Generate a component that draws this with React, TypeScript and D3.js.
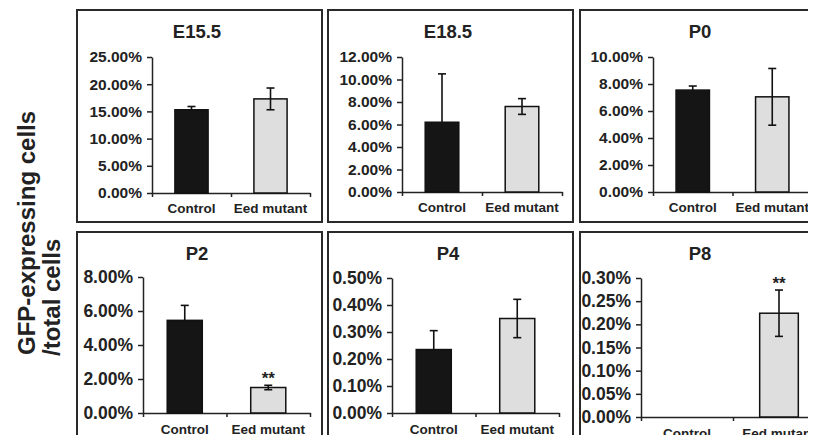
import React, { useRef, useEffect } from "react";
import * as d3 from "d3";

// values (percent of cells)
const panels = ["E15.5", "E18.5", "P0", "P2", "P4", "P8"];
const categories = ["Control", "Eed mutant"];
const controlMean = [15.3, 6.2, 7.55, 5.45, 0.235, 0];
const controlErr = [0.6, 4.3, 0.3, 0.88, 0.07, 0];
const mutantMean = [17.3, 7.6, 7.05, 1.5, 0.35, 0.224];
const mutantErr = [2.0, 0.7, 2.1, 0.13, 0.071, 0.05];
const mutantStars = ["", "", "", "**", "", "**"];
const yTicks = [
  [0, 5, 10, 15, 20, 25],
  [0, 2, 4, 6, 8, 10, 12],
  [0, 2, 4, 6, 8, 10],
  [0, 2, 4, 6, 8],
  [0, 0.1, 0.2, 0.3, 0.4, 0.5],
  [0, 0.05, 0.1, 0.15, 0.2, 0.25, 0.3],
];

// box origin and plot area inside each box
const boxes = [
  { x: 77, y: 10, x0: 75, x1: 233, top: 47, zero: 183, lab: 20 },
  { x: 328, y: 10, x0: 74, x1: 234, top: 47, zero: 182, lab: 20 },
  { x: 580, y: 10, x0: 73, x1: 232, top: 47, zero: 182, lab: 20 },
  { x: 77, y: 232, x0: 66, x1: 233, top: 45, zero: 181, lab: 21 },
  { x: 328, y: 232, x0: 64, x1: 231, top: 46, zero: 181, lab: 21 },
  { x: 580, y: 232, x0: 61, x1: 245, top: 46, zero: 185, lab: 21 },
];

const FONT = "Arial, 'Liberation Sans', sans-serif";

const Chart = ({ width = 816, height = 443 }) => {
  const svgRef = useRef(null);

  useEffect(() => {
    const svg = d3.select(svgRef.current);
    svg.selectAll("*").remove();

    // y axis title
    const yt = svg.append("g").attr("font-family", FONT).attr("font-weight", "bold").attr("font-size", 24).attr("fill", "#222");
    yt.append("text").attr("transform", "translate(35,355) rotate(-90)").text("GFP-expressing cells");
    yt.append("text").attr("transform", "translate(60,356) rotate(-90)").text("/total cells");

    panels.forEach((name, i) => {
      const b = boxes[i];
      const g = svg.append("g").attr("transform", `translate(${b.x},${b.y})`);

      g.append("rect")
        .attr("width", 245)
        .attr("height", 212)
        .attr("fill", "white")
        .attr("stroke", "#2a2a2a")
        .attr("stroke-width", 2);

      g.append("text")
        .attr("x", 120)
        .attr("y", 28)
        .attr("text-anchor", "middle")
        .attr("font-family", FONT)
        .attr("font-weight", "bold")
        .attr("font-size", 18.5)
        .attr("fill", "#222")
        .text(name);

      const ticks = yTicks[i];
      const y = d3.scaleLinear().domain([0, ticks[ticks.length - 1]]).range([b.zero, b.top]);
      const x = d3.scaleBand().domain(categories).range([b.x0, b.x1]).paddingInner(0.58).paddingOuter(0.29);
      const xEdge = d3.scaleLinear().domain([0, 2]).range([b.x0, b.x1]);

      // y axis
      const ya = g.append("g")
        .attr("transform", `translate(${b.x0},0)`)
        .call(d3.axisLeft(y).tickValues(ticks).tickFormat((d) => `${d.toFixed(2)}%`).tickSize(5).tickSizeOuter(0).tickPadding(5));
      ya.selectAll("path, line").attr("stroke", "#222").attr("stroke-width", 1.5);
      ya.selectAll("text")
        .attr("font-family", FONT)
        .attr("font-weight", "bold")
        .attr("font-size", i < 3 ? 15.5 : 17.5)
        .attr("fill", "#222");

      // x axis with category boundary ticks
      const xa = g.append("g")
        .attr("transform", `translate(0,${b.zero})`)
        .call(d3.axisBottom(xEdge).tickValues([0, 1, 2]).tickFormat(() => "").tickSize(4).tickSizeOuter(0));
      xa.selectAll("path, line").attr("stroke", "#222").attr("stroke-width", 1.5);

      const means = [controlMean[i], mutantMean[i]];
      const errs = [controlErr[i], mutantErr[i]];
      const fills = ["#151515", "#dedede"];

      const drawErr = (c, v, e) => {
        const cx = x(c) + x.bandwidth() / 2;
        const eb = g.append("g").attr("stroke", "#111").attr("stroke-width", 1.6);
        eb.append("line").attr("x1", cx).attr("x2", cx).attr("y1", y(v + e)).attr("y2", y(v - e));
        eb.append("line").attr("x1", cx - 4).attr("x2", cx + 4).attr("y1", y(v + e)).attr("y2", y(v + e));
        eb.append("line").attr("x1", cx - 4).attr("x2", cx + 4).attr("y1", y(v - e)).attr("y2", y(v - e));
      };

      categories.forEach((c, k) => {
        const v = means[k];
        const e = errs[k];
        // dark bars hide the lower half of their error bar
        if (k === 0 && e > 0) drawErr(c, v, e);
        if (v > 0) {
          g.append("rect")
            .attr("x", x(c))
            .attr("y", y(v))
            .attr("width", x.bandwidth())
            .attr("height", y(0) - y(v))
            .attr("fill", fills[k])
            .attr("stroke", "#111")
            .attr("stroke-width", 1.5);
        }
        if (k === 1 && e > 0) drawErr(c, v, e);
        g.append("text")
          .attr("x", x(c) + x.bandwidth() / 2)
          .attr("y", b.zero + b.lab)
          .attr("text-anchor", "middle")
          .attr("font-family", FONT)
          .attr("font-weight", "bold")
          .attr("font-size", 13.5)
          .attr("fill", "#222")
          .text(c);
      });

      if (mutantStars[i]) {
        g.append("text")
          .attr("x", x(categories[1]) + x.bandwidth() / 2)
          .attr("y", y(mutantMean[i] + mutantErr[i]) - 1)
          .attr("text-anchor", "middle")
          .attr("font-family", FONT)
          .attr("font-weight", "bold")
          .attr("font-size", 17)
          .attr("fill", "#222")
          .text(mutantStars[i]);
      }
    });
  }, [width, height]);

  return <svg ref={svgRef} width={width} height={height} style={{ display: "block" }}></svg>;
};

export default function App() {
  return (
    <div style={{ margin: -8, width: 816, height: 443, overflow: "hidden", background: "white" }}>
      <Chart />
    </div>
  );
}
